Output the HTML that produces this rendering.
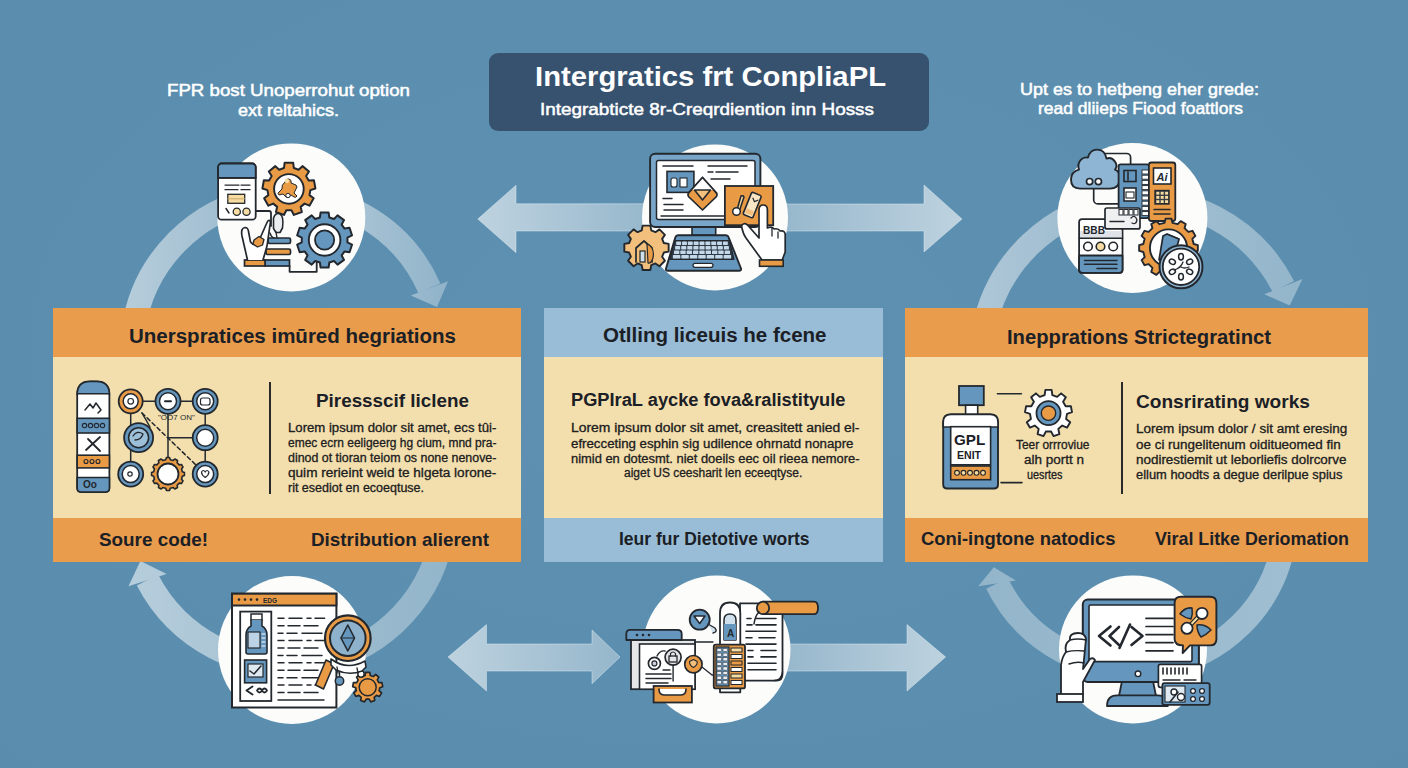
<!DOCTYPE html>
<html><head><meta charset="utf-8">
<style>
html,body{margin:0;padding:0;}
body{width:1408px;height:768px;overflow:hidden;position:relative;background:#5c8faf;font-family:"Liberation Sans",sans-serif;}
.abs{position:absolute;}
.t{position:absolute;white-space:pre;line-height:1;transform-origin:0 0;}
.box{position:absolute;}
</style></head><body>
<div class="abs" style="left:0;top:0;width:1408px;height:768px;background:radial-gradient(ellipse at 50% 45%, #5e91b1 0%, #5c8faf 60%, #5a8cad 100%);"></div>
<svg class="abs" style="left:0;top:0" width="1408" height="768" viewBox="0 0 1408 768">
<defs>
<linearGradient id="ga1" x1="0" x2="1" y1="0" y2="0"><stop offset="0" stop-color="#fff" stop-opacity="0.6"/><stop offset="1" stop-color="#fff" stop-opacity="0.35"/></linearGradient>
<linearGradient id="ga2" x1="0" x2="1" y1="0" y2="0"><stop offset="0" stop-color="#fff" stop-opacity="0.35"/><stop offset="1" stop-color="#fff" stop-opacity="0.6"/></linearGradient>
</defs>
<defs><linearGradient id="g_tl" gradientUnits="userSpaceOnUse" x1="125" y1="0" x2="448" y2="0"><stop offset="0" stop-color="#b6cddb"/><stop offset="0.45" stop-color="#97b7cc"/><stop offset="0.75" stop-color="#a5c1d3"/><stop offset="1" stop-color="#90b3c9"/></linearGradient><linearGradient id="g_tr" gradientUnits="userSpaceOnUse" x1="977" y1="0" x2="1302" y2="0"><stop offset="0" stop-color="#aec7d7"/><stop offset="0.45" stop-color="#97b7cc"/><stop offset="0.7" stop-color="#9dbccf"/><stop offset="1" stop-color="#93b5ca"/></linearGradient><linearGradient id="g_bl" gradientUnits="userSpaceOnUse" x1="128" y1="0" x2="447" y2="0"><stop offset="0" stop-color="#b7cedc"/><stop offset="0.3" stop-color="#aac5d5"/><stop offset="0.6" stop-color="#9dbccf"/><stop offset="1" stop-color="#93b5ca"/></linearGradient><linearGradient id="g_br" gradientUnits="userSpaceOnUse" x1="977" y1="0" x2="1290" y2="0"><stop offset="0" stop-color="#93b5ca"/><stop offset="0.3" stop-color="#97b7cc"/><stop offset="0.6" stop-color="#9abacd"/><stop offset="1" stop-color="#a0bed1"/></linearGradient></defs>
<path d="M133.4,330.0 A155.4,155.4 0 0,1 429.5,288.3" fill="none" stroke="url(#g_tl)" stroke-width="24"/><polygon points="448.0,281.2 437.0,307.0 410.8,295.4" fill="url(#g_tl)"/>
<path d="M983.8,330.0 A160.0,160.0 0 0,1 1283.4,286.6" fill="none" stroke="url(#g_tr)" stroke-width="24"/><polygon points="1302.4,279.0 1289.7,305.6 1264.3,294.2" fill="url(#g_tr)"/>
<path d="M441.3,540.0 A157.4,157.4 0 0,1 147.5,580.0" fill="none" stroke="url(#g_bl)" stroke-width="24"/><polygon points="128.5,586.3 140.4,561.0 166.6,574.0" fill="url(#g_bl)"/>
<path d="M1284.2,540.0 A152.3,152.3 0 0,1 997.0,583.4" fill="none" stroke="url(#g_br)" stroke-width="24"/><polygon points="978.2,586.3 993.8,567.2 1015.8,580.4" fill="url(#g_br)"/>
<!-- top middle arrows -->
<polygon points="477.8,219 516,185.3 516,203.8 650,203.8 650,231 516,231 516,252.7" fill="url(#ga1)" stroke="#e3eef5" stroke-opacity="0.45" stroke-width="1"/>
<polygon points="780,204 924,204 924,185 962,219 924,252 924,231 780,231" fill="url(#ga2)" stroke="#e3eef5" stroke-opacity="0.45" stroke-width="1"/>
<!-- bottom middle arrows -->
<polygon points="448,657 486.5,624.6 486.5,644 592,644 592,630 620,657 592,683.7 592,671 486.5,671 486.5,691" fill="url(#ga1)" stroke="#e3eef5" stroke-opacity="0.45" stroke-width="1"/>
<polygon points="780,644 907,644 907,624.6 945.6,657 907,691 907,671 780,671" fill="url(#ga2)" stroke="#e3eef5" stroke-opacity="0.45" stroke-width="1"/>
<!-- circles -->
<circle cx="291.3" cy="217.4" r="74" fill="#fcfcfb"/>
<circle cx="715" cy="217.4" r="73" fill="#fcfcfb"/>
<circle cx="1132.4" cy="218" r="75" fill="#fcfcfb"/>
<circle cx="292" cy="650" r="74" fill="#fcfcfb"/>
<circle cx="716.5" cy="649.5" r="74" fill="#fcfcfb"/>
<circle cx="1133" cy="649.4" r="74" fill="#fcfcfb"/>
</svg>
<!-- title box -->
<div class="abs" style="left:489px;top:53px;width:440px;height:78px;background:#37526f;border-radius:9px;"></div>
<!-- boxes -->
<div class="box" style="left:53px;top:308px;width:468px;height:254px;background:#f3dfad;">
  <div class="abs" style="left:0;top:0;width:468px;height:49px;background:#e99c4b;"></div>
  <div class="abs" style="left:0;top:210px;width:468px;height:44px;background:#e99c4b;"></div>
  <div class="abs" style="left:216px;top:74px;width:2px;height:112px;background:#2a2a2a;"></div>
</div>
<div class="box" style="left:544px;top:308px;width:339px;height:254px;background:#f3dfad;">
  <div class="abs" style="left:0;top:0;width:339px;height:49px;background:#99bdd6;"></div>
  <div class="abs" style="left:0;top:210px;width:339px;height:44px;background:#99bdd6;"></div>
</div>
<div class="box" style="left:905px;top:308px;width:463px;height:254px;background:#f3dfad;">
  <div class="abs" style="left:0;top:0;width:463px;height:49px;background:#e99c4b;"></div>
  <div class="abs" style="left:0;top:210px;width:463px;height:44px;background:#e99c4b;"></div>
  <div class="abs" style="left:216px;top:74px;width:2px;height:112px;background:#2a2a2a;"></div>
</div>
<svg class="abs" style="left:0;top:0" width="1408" height="768" viewBox="0 0 1408 768">
<path d="M255.7,211 H269 q2,0 2,2 V226" fill="none" stroke="#23282e" stroke-width="1.8" stroke-linejoin="round" stroke-linecap="round" />
<path d="M289.6,266 V271.8 H316.7 V262" fill="none" stroke="#23282e" stroke-width="1.8" stroke-linejoin="round" stroke-linecap="round" />
<path d="M283.99,167.97 L284.66,162.74 L293.14,162.74 L293.81,167.97 L298.59,169.71 L302.47,166.14 L308.96,171.58 L306.12,176.02 L308.66,180.43 L313.93,180.19 L315.40,188.53 L310.37,190.10 L309.48,195.11 L313.67,198.31 L309.44,205.65 L304.57,203.62 L300.67,206.89 L301.83,212.03 L293.87,214.93 L291.45,210.25 L286.35,210.25 L283.93,214.93 L275.97,212.03 L277.13,206.89 L273.23,203.62 L268.36,205.65 L264.13,198.31 L268.32,195.11 L267.43,190.10 L262.40,188.53 L263.87,180.19 L269.14,180.43 L271.68,176.02 L268.84,171.58 L275.33,166.14 L279.21,169.71Z" fill="#e99a45" stroke="#23282e" stroke-width="2" stroke-linejoin="round"/>
<circle cx="288.9" cy="188.9" r="14.8" fill="#ffffff" stroke="#23282e" stroke-width="1.9"/>
<path d="M285,182 q1,-4 4,-3 q3,1 2,4 l5,2 q2,2 0,4 l-2,4 l3,3 q-1,2 -3,1 l-3,-2 q-2,4 -5,2 l-3,-3 l-4,1 q-2,-2 0,-3 l3,-3 q-1,-4 3,-7z" fill="#e99a45" stroke="#23282e" stroke-width="1" stroke-linejoin="round" stroke-linecap="round" />
<circle cx="287" cy="181" r="2.2" fill="#f6dca0" stroke="#23282e" stroke-width="0"/>
<circle cx="288" cy="195.5" r="2.2" fill="#ffffff" stroke="#23282e" stroke-width="1"/>
<path d="M319.87,217.49 L320.60,212.49 L328.60,212.49 L329.33,217.49 L334.00,219.01 L337.53,215.39 L344.01,220.10 L341.66,224.57 L344.54,228.54 L349.53,227.69 L352.00,235.31 L347.47,237.55 L347.47,242.45 L352.00,244.69 L349.53,252.31 L344.54,251.46 L341.66,255.43 L344.01,259.90 L337.53,264.61 L334.00,260.99 L329.33,262.51 L328.60,267.51 L320.60,267.51 L319.87,262.51 L315.20,260.99 L311.67,264.61 L305.19,259.90 L307.54,255.43 L304.66,251.46 L299.67,252.31 L297.20,244.69 L301.73,242.45 L301.73,237.55 L297.20,235.31 L299.67,227.69 L304.66,228.54 L307.54,224.57 L305.19,220.10 L311.67,215.39 L315.20,219.01Z" fill="#6596bd" stroke="#23282e" stroke-width="2" stroke-linejoin="round"/>
<circle cx="324.6" cy="240" r="15.8" fill="#ffffff" stroke="#23282e" stroke-width="1.9"/>
<circle cx="324.6" cy="240" r="9.6" fill="#6596bd" stroke="#23282e" stroke-width="1.8"/>
<rect x="218.1" y="163.5" width="37.60" height="56.20" rx="3.5" fill="#ffffff" stroke="#23282e" stroke-width="1.8"/>
<path d="M218.1,177.9 V167 a3.5,3.5 0 0 1 3.5,-3.5 H252.2 a3.5,3.5 0 0 1 3.5,3.5 V177.9 Z" fill="#6596bd" stroke="#23282e" stroke-width="1.8" stroke-linejoin="round" stroke-linecap="round" />
<line x1="218.1" y1="177.9" x2="255.7" y2="177.9" stroke="#23282e" stroke-width="1.6" stroke-linecap="round" />
<line x1="225" y1="185.1" x2="239" y2="185.1" stroke="#23282e" stroke-width="1.3" stroke-linecap="round" />
<line x1="241" y1="185.1" x2="250" y2="185.1" stroke="#23282e" stroke-width="1.3" stroke-linecap="round" />
<line x1="225" y1="189.7" x2="238" y2="189.7" stroke="#23282e" stroke-width="1.3" stroke-linecap="round" />
<line x1="241" y1="189.7" x2="250" y2="189.7" stroke="#23282e" stroke-width="1.3" stroke-linecap="round" />
<rect x="227.8" y="194.3" width="16.90" height="9.00" rx="0" fill="#f6dca0" stroke="#23282e" stroke-width="1.3"/>
<line x1="227.8" y1="198.8" x2="244.7" y2="198.8" stroke="#c9a86a" stroke-width="1" stroke-linecap="round" />
<line x1="226" y1="208.5" x2="229" y2="213" stroke="#23282e" stroke-width="1.5" stroke-linecap="round" />
<circle cx="236.8" cy="211.7" r="3.6" fill="#f6dca0" stroke="#23282e" stroke-width="1.3"/>
<circle cx="246.5" cy="211.7" r="3.6" fill="#f6dca0" stroke="#23282e" stroke-width="1.3"/>
<rect x="268" y="238" width="22.50" height="5.50" rx="1.5" fill="#6596bd" stroke="#23282e" stroke-width="1.7"/>
<rect x="266" y="249" width="24.50" height="5.50" rx="1.5" fill="#e99a45" stroke="#23282e" stroke-width="1.7"/>
<rect x="265" y="260" width="24.50" height="6.00" rx="0" fill="#6596bd" stroke="#23282e" stroke-width="1.7"/>
<rect x="244.5" y="260" width="20.50" height="6.00" rx="0" fill="#e99a45" stroke="#23282e" stroke-width="1.7"/>
<path d="M273.5,218 q2,-6 6.5,-4 q4,2 2.5,14 l-2.5,4.5 h-4 l-2.5,-4 z" fill="#eceff2" stroke="#23282e" stroke-width="1.6" stroke-linejoin="round" stroke-linecap="round" />
<path d="M276,232 l1,6" fill="none" stroke="#23282e" stroke-width="1.4" stroke-linejoin="round" stroke-linecap="round" />
<path d="M270,233 q1,4 4,5" fill="none" stroke="#23282e" stroke-width="1.3" stroke-linejoin="round" stroke-linecap="round" />
<path d="M247.5,260 L242,236 q-1.5,-8 3,-8.5 q3,0 3.5,4 L250.5,242 q3,4 7,2 L267,222.5 q1.5,-3.5 3.5,-1 L267,246 L263,260" fill="#ffffff" stroke="#23282e" stroke-width="1.7" stroke-linejoin="round" stroke-linecap="round" />
<path d="M254,240 l5,-3.5 l5,3 l-1.5,5.5 l-5,2 l-4.5,-3z" fill="#e99a45" stroke="#23282e" stroke-width="1.3" stroke-linejoin="round" stroke-linecap="round" />
<path d="M641.75,230.44 L642.63,225.64 L650.37,225.64 L651.25,230.44 L655.42,232.16 L659.44,229.39 L664.91,234.86 L662.14,238.88 L663.86,243.05 L668.66,243.93 L668.66,251.67 L663.86,252.55 L662.14,256.72 L664.91,260.74 L659.44,266.21 L655.42,263.44 L651.25,265.16 L650.37,269.96 L642.63,269.96 L641.75,265.16 L637.58,263.44 L633.56,266.21 L628.09,260.74 L630.86,256.72 L629.14,252.55 L624.34,251.67 L624.34,243.93 L629.14,243.05 L630.86,238.88 L628.09,234.86 L633.56,229.39 L637.58,232.16Z" fill="#f2c07c" stroke="#23282e" stroke-width="1.9" stroke-linejoin="round"/>
<path d="M636,262 V248 l8,-7 l8,7 V262" fill="none" stroke="#23282e" stroke-width="1.7" stroke-linejoin="round" stroke-linecap="round" />
<rect x="640" y="251" width="5.00" height="11.00" rx="0" fill="#cfe0ec" stroke="#23282e" stroke-width="1.2"/>
<path d="M647,244 q8,3 6,14 q-2,6 -5,5 z" fill="#e99a45" stroke="#23282e" stroke-width="1.2" stroke-linejoin="round" stroke-linecap="round" />
<rect x="692" y="226" width="23.70" height="9.30" rx="0" fill="#6596bd" stroke="#23282e" stroke-width="1.6"/>
<rect x="650.1" y="153.8" width="110.30" height="73.20" rx="5" fill="#78a5c8" stroke="#23282e" stroke-width="1.9"/>
<rect x="656.5" y="160.5" width="98.50" height="59.00" rx="2" fill="#ffffff" stroke="#23282e" stroke-width="1.5"/>
<path d="M678,235.3 H726 q2,0 2.6,2 L741,268.5 q0.6,2.3 -2,2.3 H668 q-2.6,0 -2,-2.3 L675.4,237.3 q0.6,-2 2.6,-2 Z" fill="#6596bd" stroke="#23282e" stroke-width="1.9" stroke-linejoin="round" stroke-linecap="round" />
<path d="M674.5,240.5 H729.5 L734,259.5 H670 Z" fill="#2f3a46" stroke="#23282e" stroke-width="1.2" stroke-linejoin="round" stroke-linecap="round" />
<rect x="676.20" y="241.60" width="4.84" height="3.4" rx="0.6" fill="#c3d8e8"/>
<rect x="682.04" y="241.60" width="4.84" height="3.4" rx="0.6" fill="#c3d8e8"/>
<rect x="687.89" y="241.60" width="4.84" height="3.4" rx="0.6" fill="#c3d8e8"/>
<rect x="693.73" y="241.60" width="4.84" height="3.4" rx="0.6" fill="#c3d8e8"/>
<rect x="699.58" y="241.60" width="4.84" height="3.4" rx="0.6" fill="#c3d8e8"/>
<rect x="705.42" y="241.60" width="4.84" height="3.4" rx="0.6" fill="#c3d8e8"/>
<rect x="711.27" y="241.60" width="4.84" height="3.4" rx="0.6" fill="#c3d8e8"/>
<rect x="717.11" y="241.60" width="4.84" height="3.4" rx="0.6" fill="#c3d8e8"/>
<rect x="722.96" y="241.60" width="4.84" height="3.4" rx="0.6" fill="#c3d8e8"/>
<rect x="675.10" y="246.10" width="5.09" height="3.4" rx="0.6" fill="#c3d8e8"/>
<rect x="681.19" y="246.10" width="5.09" height="3.4" rx="0.6" fill="#c3d8e8"/>
<rect x="687.28" y="246.10" width="5.09" height="3.4" rx="0.6" fill="#c3d8e8"/>
<rect x="693.37" y="246.10" width="5.09" height="3.4" rx="0.6" fill="#c3d8e8"/>
<rect x="699.46" y="246.10" width="5.09" height="3.4" rx="0.6" fill="#c3d8e8"/>
<rect x="705.54" y="246.10" width="5.09" height="3.4" rx="0.6" fill="#c3d8e8"/>
<rect x="711.63" y="246.10" width="5.09" height="3.4" rx="0.6" fill="#c3d8e8"/>
<rect x="717.72" y="246.10" width="5.09" height="3.4" rx="0.6" fill="#c3d8e8"/>
<rect x="723.81" y="246.10" width="5.09" height="3.4" rx="0.6" fill="#c3d8e8"/>
<rect x="674.00" y="250.60" width="5.33" height="3.4" rx="0.6" fill="#c3d8e8"/>
<rect x="680.33" y="250.60" width="5.33" height="3.4" rx="0.6" fill="#c3d8e8"/>
<rect x="686.67" y="250.60" width="5.33" height="3.4" rx="0.6" fill="#c3d8e8"/>
<rect x="693.00" y="250.60" width="5.33" height="3.4" rx="0.6" fill="#c3d8e8"/>
<rect x="699.33" y="250.60" width="5.33" height="3.4" rx="0.6" fill="#c3d8e8"/>
<rect x="705.67" y="250.60" width="5.33" height="3.4" rx="0.6" fill="#c3d8e8"/>
<rect x="712.00" y="250.60" width="5.33" height="3.4" rx="0.6" fill="#c3d8e8"/>
<rect x="718.33" y="250.60" width="5.33" height="3.4" rx="0.6" fill="#c3d8e8"/>
<rect x="724.67" y="250.60" width="5.33" height="3.4" rx="0.6" fill="#c3d8e8"/>
<rect x="672.90" y="255.10" width="7.46" height="3.4" rx="0.6" fill="#c3d8e8"/>
<rect x="681.36" y="255.10" width="7.46" height="3.4" rx="0.6" fill="#c3d8e8"/>
<rect x="689.81" y="255.10" width="7.46" height="3.4" rx="0.6" fill="#c3d8e8"/>
<rect x="698.27" y="255.10" width="7.46" height="3.4" rx="0.6" fill="#c3d8e8"/>
<rect x="706.73" y="255.10" width="7.46" height="3.4" rx="0.6" fill="#c3d8e8"/>
<rect x="715.19" y="255.10" width="7.46" height="3.4" rx="0.6" fill="#c3d8e8"/>
<rect x="723.64" y="255.10" width="7.46" height="3.4" rx="0.6" fill="#c3d8e8"/>
<rect x="693" y="263.3" width="20.00" height="4.00" rx="2" fill="#ffffff" stroke="#23282e" stroke-width="1.3"/>
<line x1="663" y1="166" x2="693" y2="166" stroke="#23282e" stroke-width="1.5" stroke-linecap="round" />
<line x1="708" y1="166" x2="747" y2="166" stroke="#23282e" stroke-width="1.5" stroke-linecap="round" />
<line x1="708" y1="172" x2="713" y2="172" stroke="#23282e" stroke-width="1.5" stroke-linecap="round" />
<line x1="716" y1="172" x2="738" y2="172" stroke="#23282e" stroke-width="1.5" stroke-linecap="round" />
<line x1="711" y1="179" x2="730" y2="179" stroke="#23282e" stroke-width="1.5" stroke-linecap="round" />
<rect x="667" y="171.4" width="26.90" height="21.00" rx="0" fill="#6596bd" stroke="#23282e" stroke-width="1.6"/>
<rect x="671" y="178" width="6.00" height="9.00" rx="2" fill="#ffffff" stroke="#23282e" stroke-width="1.1"/>
<rect x="680" y="178" width="7.00" height="9.00" rx="0" fill="#ffffff" stroke="#23282e" stroke-width="1.1"/>
<line x1="663" y1="198.5" x2="672" y2="198.5" stroke="#23282e" stroke-width="1.5" stroke-linecap="round" />
<line x1="664" y1="204.5" x2="683" y2="204.5" stroke="#23282e" stroke-width="1.5" stroke-linecap="round" />
<line x1="664" y1="210" x2="683" y2="210" stroke="#23282e" stroke-width="1.5" stroke-linecap="round" />
<line x1="661" y1="216" x2="745" y2="216" stroke="#23282e" stroke-width="1.5" stroke-linecap="round" />
<path d="M702.5,177.5 L716.5,193 Q718,196 715,198 L702.5,210 L690,198 Q687,196 688.5,193 Z" fill="#e99a45" stroke="#23282e" stroke-width="1.7" stroke-linejoin="round" stroke-linecap="round" />
<path d="M702.5,177.5 L714,190 H691 Z" fill="#ffffff" stroke="#23282e" stroke-width="0" stroke-linejoin="round" stroke-linecap="round" />
<path d="M688.5,193 L702.5,177.5 L716.5,193" fill="none" stroke="#23282e" stroke-width="1.7" stroke-linejoin="round" stroke-linecap="round" />
<path d="M694.5,190 H710.5 L702.5,200 Z" fill="#f2c07c" stroke="#23282e" stroke-width="1.6" stroke-linejoin="round" stroke-linecap="round" />
<rect x="724.9" y="186" width="48.30" height="39.20" rx="0" fill="#e99a45" stroke="#23282e" stroke-width="1.8"/>
<path d="M741,196 q2,-1 3,1 l-4,12 q-1,2 -3,1 z" fill="#f6dca0" stroke="#23282e" stroke-width="1.5" stroke-linejoin="round" stroke-linecap="round" />
<circle cx="736.5" cy="211.5" r="3.8" fill="#ffffff" stroke="#23282e" stroke-width="1.5"/>
<g transform="rotate(22 752 205)"><rect x="747" y="193" width="10.5" height="24" rx="1.5" fill="#f8e6c4" stroke="#23282e" stroke-width="1.6"/><path d="M750,198 l3,3 l3,-3" fill="none" stroke="#23282e" stroke-width="1.2"/><rect x="748.5" y="210" width="7.5" height="5" fill="#f2c07c" stroke="none"/></g>
<path d="M741.5,226 q2,-4 6,-1 l11.5,13 V210 q0,-5 4.2,-5 q4.2,0 4.2,5 V228 q4,-2 6.8,1 q4,-1 6,2 q4,-1 5,3 V252 l-3,8 H762 l-16,-22 q-3,-4 -4.5,-12 z" fill="#ffffff" stroke="#23282e" stroke-width="1.7" stroke-linejoin="round" stroke-linecap="round" />
<rect x="759.5" y="260" width="23.70" height="6.30" rx="0" fill="#e99a45" stroke="#23282e" stroke-width="1.6"/>
<line x1="772" y1="228" x2="772" y2="236" stroke="#23282e" stroke-width="1.3" stroke-linecap="round" />
<line x1="778" y1="232" x2="778" y2="238" stroke="#23282e" stroke-width="1.3" stroke-linecap="round" />
<rect x="1093.7" y="153.5" width="36.90" height="50.40" rx="4" fill="none" stroke="#23282e" stroke-width="1.7"/>
<path d="M1080,188.6 q-9,0 -9,-9 q0,-8 8,-10 q-2,-6 2,-10 q3,-3 7,-2 q2,-8 9,-8 q8,0 9.5,9 q5,-2 8.5,3 q3,4 0,8 q5,2 5,8 q0,11 -10,11 z" fill="#8fb5d5" stroke="#23282e" stroke-width="1.9" stroke-linejoin="round" stroke-linecap="round" />
<circle cx="1089.6" cy="181.6" r="3.1" fill="#ffffff" stroke="#23282e" stroke-width="1.7"/>
<circle cx="1098.4" cy="181.6" r="3.1" fill="#ffffff" stroke="#23282e" stroke-width="1.7"/>
<rect x="1118.6" y="164.4" width="30.30" height="53.70" rx="2" fill="#6596bd" stroke="#23282e" stroke-width="1.8"/>
<rect x="1124" y="170.5" width="12.00" height="11.00" rx="0" fill="#6596bd" stroke="#23282e" stroke-width="1.6"/>
<line x1="1128" y1="172" x2="1128" y2="180" stroke="#23282e" stroke-width="1.6" stroke-linecap="round" />
<rect x="1124" y="188" width="12.00" height="13.00" rx="0" fill="#ffffff" stroke="#23282e" stroke-width="1.6"/>
<rect x="1126" y="192" width="8.00" height="6.00" rx="0" fill="none" stroke="#23282e" stroke-width="1.1"/>
<rect x="1142" y="170.0" width="6.90" height="4.00" rx="0" fill="#ffffff" stroke="#23282e" stroke-width="0.9"/>
<rect x="1142" y="175.2" width="6.90" height="4.00" rx="0" fill="#ffffff" stroke="#23282e" stroke-width="0.9"/>
<rect x="1142" y="180.4" width="6.90" height="4.00" rx="0" fill="#ffffff" stroke="#23282e" stroke-width="0.9"/>
<rect x="1142" y="185.6" width="6.90" height="4.00" rx="0" fill="#ffffff" stroke="#23282e" stroke-width="0.9"/>
<rect x="1142" y="190.8" width="6.90" height="4.00" rx="0" fill="#ffffff" stroke="#23282e" stroke-width="0.9"/>
<rect x="1142" y="196.0" width="6.90" height="4.00" rx="0" fill="#ffffff" stroke="#23282e" stroke-width="0.9"/>
<rect x="1142" y="201.2" width="6.90" height="4.00" rx="0" fill="#ffffff" stroke="#23282e" stroke-width="0.9"/>
<rect x="1142" y="206.4" width="6.90" height="4.00" rx="0" fill="#ffffff" stroke="#23282e" stroke-width="0.9"/>
<rect x="1142" y="211.6" width="6.90" height="4.00" rx="0" fill="#ffffff" stroke="#23282e" stroke-width="0.9"/>
<rect x="1148.9" y="162.5" width="26.40" height="58.50" rx="2.5" fill="#e99a45" stroke="#23282e" stroke-width="1.8"/>
<rect x="1153.5" y="168" width="17.50" height="16.00" rx="0" fill="#ffffff" stroke="#23282e" stroke-width="1.6"/>
<text x="1162" y="181" font-family="Liberation Sans" font-weight="bold" font-style="italic" font-size="11" text-anchor="middle" fill="#23282e">Ai</text>
<rect x="1155" y="190.5" width="14.00" height="13.50" rx="0" fill="#3a3f44" stroke="#23282e" stroke-width="1.4"/>
<rect x="1156.3" y="191.8" width="3" height="2.8" fill="#f6dca0"/>
<rect x="1160.7" y="191.8" width="3" height="2.8" fill="#f6dca0"/>
<rect x="1165.1" y="191.8" width="3" height="2.8" fill="#f6dca0"/>
<rect x="1156.3" y="196.0" width="3" height="2.8" fill="#f6dca0"/>
<rect x="1160.7" y="196.0" width="3" height="2.8" fill="#f6dca0"/>
<rect x="1165.1" y="196.0" width="3" height="2.8" fill="#f6dca0"/>
<rect x="1156.3" y="200.2" width="3" height="2.8" fill="#f6dca0"/>
<rect x="1160.7" y="200.2" width="3" height="2.8" fill="#f6dca0"/>
<rect x="1165.1" y="200.2" width="3" height="2.8" fill="#f6dca0"/>
<line x1="1154" y1="209.5" x2="1170" y2="209.5" stroke="#23282e" stroke-width="1.5" stroke-linecap="round" />
<line x1="1154" y1="214" x2="1170" y2="214" stroke="#23282e" stroke-width="1.5" stroke-linecap="round" />
<rect x="1079.1" y="219.1" width="43.40" height="53.70" rx="3" fill="#ffffff" stroke="#23282e" stroke-width="1.8"/>
<rect x="1080" y="231" width="41.5" height="7" fill="#dfe3e7"/>
<line x1="1079.1" y1="238.3" x2="1122.5" y2="238.3" stroke="#23282e" stroke-width="1.5" stroke-linecap="round" />
<path d="M1079.1,255.5 H1122.5 V269.8 q0,3 -3,3 H1082.1 q-3,0 -3,-3 Z" fill="#6596bd" stroke="#23282e" stroke-width="1.8" stroke-linejoin="round" stroke-linecap="round" />
<text x="1083" y="234" font-family="Liberation Sans" font-weight="bold" font-size="11" fill="#23282e" textLength="22" lengthAdjust="spacingAndGlyphs">BBB</text>
<circle cx="1088" cy="246.5" r="4.3" fill="#ffffff" stroke="#23282e" stroke-width="1.6"/>
<circle cx="1100.5" cy="246.5" r="4.3" fill="#f6dca0" stroke="#23282e" stroke-width="1.6"/>
<circle cx="1113.2" cy="246.5" r="4.3" fill="#ffffff" stroke="#23282e" stroke-width="1.6"/>
<line x1="1084.5" y1="260.4" x2="1117" y2="260.4" stroke="#23282e" stroke-width="1.5" stroke-linecap="round" />
<line x1="1084.5" y1="264.2" x2="1117" y2="264.2" stroke="#23282e" stroke-width="1.5" stroke-linecap="round" />
<line x1="1097" y1="268.6" x2="1117" y2="268.6" stroke="#23282e" stroke-width="1.5" stroke-linecap="round" />
<rect x="1105" y="208" width="35.00" height="20.90" rx="2" fill="#eef0f2" stroke="#23282e" stroke-width="1.7"/>
<rect x="1119" y="209.5" width="4.00" height="5.50" rx="0" fill="#ffffff" stroke="#23282e" stroke-width="1"/>
<rect x="1124" y="209.5" width="4.00" height="5.50" rx="0" fill="#ffffff" stroke="#23282e" stroke-width="1"/>
<rect x="1129" y="209.5" width="4.00" height="5.50" rx="0" fill="#ffffff" stroke="#23282e" stroke-width="1"/>
<rect x="1134" y="209.5" width="4.00" height="5.50" rx="0" fill="#ffffff" stroke="#23282e" stroke-width="1"/>
<line x1="1110" y1="221.5" x2="1124" y2="221.5" stroke="#23282e" stroke-width="1.5" stroke-linecap="round" />
<path d="M1131,218 q4,-4 6,2 q-1,5 -5,3" fill="none" stroke="#23282e" stroke-width="1.3" stroke-linejoin="round" stroke-linecap="round" />
<path d="M1164.51,222.81 L1165.57,218.65 L1171.43,218.65 L1172.49,222.81 L1177.64,224.19 L1180.64,221.11 L1185.71,224.04 L1184.55,228.18 L1188.32,231.95 L1192.46,230.79 L1195.39,235.86 L1192.31,238.86 L1193.69,244.01 L1197.85,245.07 L1197.85,250.93 L1193.69,251.99 L1192.31,257.14 L1195.39,260.14 L1192.46,265.21 L1188.32,264.05 L1184.55,267.82 L1185.71,271.96 L1180.64,274.89 L1177.64,271.81 L1172.49,273.19 L1171.43,277.35 L1165.57,277.35 L1164.51,273.19 L1159.36,271.81 L1156.36,274.89 L1151.29,271.96 L1152.45,267.82 L1148.68,264.05 L1144.54,265.21 L1141.61,260.14 L1144.69,257.14 L1143.31,251.99 L1139.15,250.93 L1139.15,245.07 L1143.31,244.01 L1144.69,238.86 L1141.61,235.86 L1144.54,230.79 L1148.68,231.95 L1152.45,228.18 L1151.29,224.04 L1156.36,221.11 L1159.36,224.19Z" fill="#e99a45" stroke="#23282e" stroke-width="1.9" stroke-linejoin="round"/>
<circle cx="1168.5" cy="248" r="18.6" fill="#ffffff" stroke="#23282e" stroke-width="1.9"/>
<path d="M1163,236 l4,-2 l12,5 l-1,4 l-6,18 l-13,-1 z" fill="#6596bd" stroke="#23282e" stroke-width="1.7" stroke-linejoin="round" stroke-linecap="round" />
<path d="M1167,234 l12,5" fill="none" stroke="#23282e" stroke-width="1.2" stroke-linejoin="round" stroke-linecap="round" />
<circle cx="1181" cy="266.8" r="21.5" fill="#8fb4d0" stroke="#23282e" stroke-width="2"/>
<circle cx="1181" cy="266.8" r="18.2" fill="#ffffff" stroke="#23282e" stroke-width="1.8"/>
<ellipse cx="1189.66" cy="271.80" rx="3.2" ry="2.4" transform="rotate(30 1189.66 271.80)" fill="none" stroke="#23282e" stroke-width="1.5"/>
<ellipse cx="1181.00" cy="276.80" rx="3.2" ry="2.4" transform="rotate(90 1181.00 276.80)" fill="none" stroke="#23282e" stroke-width="1.5"/>
<ellipse cx="1172.34" cy="271.80" rx="3.2" ry="2.4" transform="rotate(150 1172.34 271.80)" fill="none" stroke="#23282e" stroke-width="1.5"/>
<ellipse cx="1172.34" cy="261.80" rx="3.2" ry="2.4" transform="rotate(210 1172.34 261.80)" fill="none" stroke="#23282e" stroke-width="1.5"/>
<ellipse cx="1181.00" cy="256.80" rx="3.2" ry="2.4" transform="rotate(270 1181.00 256.80)" fill="none" stroke="#23282e" stroke-width="1.5"/>
<ellipse cx="1189.66" cy="261.80" rx="3.2" ry="2.4" transform="rotate(330 1189.66 261.80)" fill="none" stroke="#23282e" stroke-width="1.5"/>
<path d="M1174,270 q7,-2 9,-8 M1181,267 q3,2 8,0" fill="none" stroke="#23282e" stroke-width="1.3" stroke-linejoin="round" stroke-linecap="round" />
<rect x="232" y="593.7" width="104.40" height="113.80" rx="0" fill="#ffffff" stroke="#23282e" stroke-width="2"/>
<rect x="232" y="593.7" width="104.40" height="11.80" rx="0" fill="#e99a45" stroke="#23282e" stroke-width="2"/>
<circle cx="239" cy="599.6" r="1.3" fill="#23282e" stroke="#23282e" stroke-width="0"/>
<circle cx="245" cy="599.6" r="1.3" fill="#23282e" stroke="#23282e" stroke-width="0"/>
<circle cx="251" cy="599.6" r="1.3" fill="#23282e" stroke="#23282e" stroke-width="0"/>
<circle cx="257" cy="599.6" r="1.3" fill="#23282e" stroke="#23282e" stroke-width="0"/>
<text x="263" y="602.5" font-family="Liberation Sans" font-weight="bold" font-size="6.5" fill="#23282e">EDG</text>
<rect x="240.2" y="611.6" width="31.10" height="89.40" rx="0" fill="#ffffff" stroke="#23282e" stroke-width="1.8"/>
<rect x="251" y="614" width="11.00" height="6.00" rx="0" fill="#ffffff" stroke="#23282e" stroke-width="1.5"/>
<path d="M251,620 V626 q-5,3 -5,9 V652 q0,2 2,2 H265 q2,0 2,-2 V635 q0,-6 -5,-9 V620" fill="#6596bd" stroke="#23282e" stroke-width="1.6" stroke-linejoin="round" stroke-linecap="round" />
<rect x="248" y="632" width="12.00" height="16.00" rx="0" fill="#bcd3e6" stroke="#23282e" stroke-width="1.2"/>
<line x1="262" y1="634" x2="265" y2="634" stroke="#ffffff" stroke-width="1" stroke-linecap="round" />
<line x1="262" y1="638" x2="265" y2="638" stroke="#ffffff" stroke-width="1" stroke-linecap="round" />
<line x1="262" y1="642" x2="265" y2="642" stroke="#ffffff" stroke-width="1" stroke-linecap="round" />
<line x1="262" y1="646" x2="265" y2="646" stroke="#ffffff" stroke-width="1" stroke-linecap="round" />
<rect x="244.6" y="660" width="22.00" height="22.80" rx="0" fill="#6596bd" stroke="#23282e" stroke-width="1.6"/>
<rect x="248" y="664" width="15.00" height="13.00" rx="0" fill="#dfe9f1" stroke="#23282e" stroke-width="1.2"/>
<path d="M250,671 l4,3 l7,-8" fill="none" stroke="#23282e" stroke-width="1.5" stroke-linejoin="round" stroke-linecap="round" />
<path d="M252.5,686.5 L246.5,690.5 L252.5,694.5" fill="none" stroke="#23282e" stroke-width="2" stroke-linejoin="round" stroke-linecap="round" />
<path d="M257,690.5 q2.5,-4 5,0 q2.5,4 5,0 q-2.5,-4 -5,0 q-2.5,4 -5,0z" fill="none" stroke="#23282e" stroke-width="1.8" stroke-linejoin="round" stroke-linecap="round" />
<line x1="278" y1="618.3" x2="284" y2="618.3" stroke="#23282e" stroke-width="1.5" stroke-linecap="round" />
<line x1="289" y1="618.3" x2="302" y2="618.3" stroke="#23282e" stroke-width="1.5" stroke-linecap="round" />
<line x1="307" y1="618.3" x2="311" y2="618.3" stroke="#23282e" stroke-width="1.5" stroke-linecap="round" />
<line x1="315" y1="618.3" x2="324.6" y2="618.3" stroke="#23282e" stroke-width="1.5" stroke-linecap="round" />
<line x1="278" y1="625.72" x2="284" y2="625.72" stroke="#23282e" stroke-width="1.5" stroke-linecap="round" />
<line x1="288" y1="625.72" x2="300" y2="625.72" stroke="#23282e" stroke-width="1.5" stroke-linecap="round" />
<line x1="304" y1="625.72" x2="318" y2="625.72" stroke="#23282e" stroke-width="1.5" stroke-linecap="round" />
<line x1="278" y1="633.14" x2="283" y2="633.14" stroke="#23282e" stroke-width="1.5" stroke-linecap="round" />
<line x1="287" y1="633.14" x2="297" y2="633.14" stroke="#23282e" stroke-width="1.5" stroke-linecap="round" />
<line x1="302" y1="633.14" x2="322" y2="633.14" stroke="#23282e" stroke-width="1.5" stroke-linecap="round" />
<line x1="278" y1="640.56" x2="284" y2="640.56" stroke="#23282e" stroke-width="1.5" stroke-linecap="round" />
<line x1="289" y1="640.56" x2="302" y2="640.56" stroke="#23282e" stroke-width="1.5" stroke-linecap="round" />
<line x1="307" y1="640.56" x2="311" y2="640.56" stroke="#23282e" stroke-width="1.5" stroke-linecap="round" />
<line x1="315" y1="640.56" x2="324.6" y2="640.56" stroke="#23282e" stroke-width="1.5" stroke-linecap="round" />
<line x1="278" y1="647.98" x2="284" y2="647.98" stroke="#23282e" stroke-width="1.5" stroke-linecap="round" />
<line x1="288" y1="647.98" x2="300" y2="647.98" stroke="#23282e" stroke-width="1.5" stroke-linecap="round" />
<line x1="304" y1="647.98" x2="318" y2="647.98" stroke="#23282e" stroke-width="1.5" stroke-linecap="round" />
<line x1="278" y1="655.4" x2="283" y2="655.4" stroke="#23282e" stroke-width="1.5" stroke-linecap="round" />
<line x1="287" y1="655.4" x2="297" y2="655.4" stroke="#23282e" stroke-width="1.5" stroke-linecap="round" />
<line x1="302" y1="655.4" x2="322" y2="655.4" stroke="#23282e" stroke-width="1.5" stroke-linecap="round" />
<line x1="278" y1="662.82" x2="284" y2="662.82" stroke="#23282e" stroke-width="1.5" stroke-linecap="round" />
<line x1="289" y1="662.82" x2="302" y2="662.82" stroke="#23282e" stroke-width="1.5" stroke-linecap="round" />
<line x1="307" y1="662.82" x2="311" y2="662.82" stroke="#23282e" stroke-width="1.5" stroke-linecap="round" />
<line x1="315" y1="662.82" x2="324.6" y2="662.82" stroke="#23282e" stroke-width="1.5" stroke-linecap="round" />
<line x1="278" y1="670.24" x2="284" y2="670.24" stroke="#23282e" stroke-width="1.5" stroke-linecap="round" />
<line x1="288" y1="670.24" x2="300" y2="670.24" stroke="#23282e" stroke-width="1.5" stroke-linecap="round" />
<line x1="304" y1="670.24" x2="318" y2="670.24" stroke="#23282e" stroke-width="1.5" stroke-linecap="round" />
<line x1="278" y1="677.66" x2="283" y2="677.66" stroke="#23282e" stroke-width="1.5" stroke-linecap="round" />
<line x1="287" y1="677.66" x2="297" y2="677.66" stroke="#23282e" stroke-width="1.5" stroke-linecap="round" />
<line x1="302" y1="677.66" x2="322" y2="677.66" stroke="#23282e" stroke-width="1.5" stroke-linecap="round" />
<line x1="278" y1="685.08" x2="284" y2="685.08" stroke="#23282e" stroke-width="1.5" stroke-linecap="round" />
<line x1="289" y1="685.08" x2="302" y2="685.08" stroke="#23282e" stroke-width="1.5" stroke-linecap="round" />
<line x1="307" y1="685.08" x2="311" y2="685.08" stroke="#23282e" stroke-width="1.5" stroke-linecap="round" />
<line x1="315" y1="685.08" x2="324.6" y2="685.08" stroke="#23282e" stroke-width="1.5" stroke-linecap="round" />
<line x1="278" y1="692.5" x2="284" y2="692.5" stroke="#23282e" stroke-width="1.5" stroke-linecap="round" />
<line x1="288" y1="692.5" x2="300" y2="692.5" stroke="#23282e" stroke-width="1.5" stroke-linecap="round" />
<line x1="304" y1="692.5" x2="318" y2="692.5" stroke="#23282e" stroke-width="1.5" stroke-linecap="round" />
<line x1="278" y1="700" x2="324" y2="700" stroke="#23282e" stroke-width="1.5" stroke-linecap="round" />
<path d="M326,660 L334,664 L323.5,689 L315.5,685 Z" fill="#e99a45" stroke="#23282e" stroke-width="1.6" stroke-linejoin="round" stroke-linecap="round" />
<line x1="339.5" y1="665" x2="339.5" y2="676" stroke="#23282e" stroke-width="1.5" stroke-linecap="round" />
<circle cx="339.5" cy="681" r="4.2" fill="#6596bd" stroke="#23282e" stroke-width="1.5"/>
<path d="M365.04,675.50 L365.61,672.35 L369.79,672.35 L370.36,675.50 L373.19,676.53 L375.65,674.48 L378.85,677.16 L377.26,679.94 L378.76,682.55 L381.97,682.56 L382.69,686.68 L379.69,687.79 L379.16,690.75 L381.61,692.82 L379.52,696.43 L376.50,695.35 L374.20,697.29 L374.74,700.44 L370.82,701.87 L369.20,699.11 L366.20,699.11 L364.58,701.87 L360.66,700.44 L361.20,697.29 L358.90,695.35 L355.88,696.43 L353.79,692.82 L356.24,690.75 L355.71,687.79 L352.71,686.68 L353.43,682.56 L356.64,682.55 L358.14,679.94 L356.55,677.16 L359.75,674.48 L362.21,676.53Z" fill="#e99a45" stroke="#23282e" stroke-width="1.7" stroke-linejoin="round"/>
<circle cx="367.7" cy="687.2" r="8.5" fill="#e99a45" stroke="#23282e" stroke-width="1.5"/>
<circle cx="361" cy="674" r="3.2" fill="#ffffff" stroke="#23282e" stroke-width="1.5"/>
<path d="M331,659 q16,12 34,2 l1,6 l-4,4 q-13,5 -26,-1 l-5,-5 z" fill="#ffffff" stroke="#23282e" stroke-width="1.6" stroke-linejoin="round" stroke-linecap="round" />
<path d="M337,667 l1,6 M357,668 l1,5" fill="none" stroke="#23282e" stroke-width="1.3" stroke-linejoin="round" stroke-linecap="round" />
<circle cx="347.8" cy="638.2" r="22.8" fill="#e99a45" stroke="#23282e" stroke-width="2.2"/>
<circle cx="347.8" cy="638.2" r="17.8" fill="#8eb2cc" stroke="#23282e" stroke-width="2"/>
<path d="M347.8,625 L354.5,638 L347.8,651 L341,638 Z" fill="#6596bd" stroke="#23282e" stroke-width="1.6" stroke-linejoin="round" stroke-linecap="round" />
<line x1="341" y1="638" x2="354.5" y2="638" stroke="#23282e" stroke-width="1.2" stroke-linecap="round" />
<path d="M740,603.3 H782.5 V674 q0,6.6 -6,6.6 H740 z" fill="#ffffff" stroke="#23282e" stroke-width="1.8" stroke-linejoin="round" stroke-linecap="round" />
<path d="M782.5,672 q-1,8 -8,8.6" fill="none" stroke="#23282e" stroke-width="1.5" stroke-linejoin="round" stroke-linecap="round" />
<line x1="747" y1="618.5" x2="751" y2="618.5" stroke="#23282e" stroke-width="1.6" stroke-linecap="round" />
<line x1="756" y1="618.5" x2="776" y2="618.5" stroke="#23282e" stroke-width="1.6" stroke-linecap="round" />
<line x1="747" y1="624.9" x2="752" y2="624.9" stroke="#23282e" stroke-width="1.6" stroke-linecap="round" />
<line x1="756" y1="624.9" x2="776" y2="624.9" stroke="#23282e" stroke-width="1.6" stroke-linecap="round" />
<line x1="746" y1="631.3" x2="776" y2="631.3" stroke="#23282e" stroke-width="1.6" stroke-linecap="round" />
<line x1="746" y1="637.7" x2="752" y2="637.7" stroke="#23282e" stroke-width="1.6" stroke-linecap="round" />
<line x1="759" y1="637.7" x2="775" y2="637.7" stroke="#23282e" stroke-width="1.6" stroke-linecap="round" />
<line x1="746" y1="644.1" x2="776" y2="644.1" stroke="#23282e" stroke-width="1.6" stroke-linecap="round" />
<line x1="748" y1="650.5" x2="753" y2="650.5" stroke="#23282e" stroke-width="1.6" stroke-linecap="round" />
<line x1="761" y1="650.5" x2="776" y2="650.5" stroke="#23282e" stroke-width="1.6" stroke-linecap="round" />
<line x1="748" y1="656.9" x2="753" y2="656.9" stroke="#23282e" stroke-width="1.6" stroke-linecap="round" />
<line x1="761" y1="656.9" x2="776" y2="656.9" stroke="#23282e" stroke-width="1.6" stroke-linecap="round" />
<line x1="748" y1="663.3" x2="776" y2="663.3" stroke="#23282e" stroke-width="1.6" stroke-linecap="round" />
<line x1="748" y1="669.7" x2="776" y2="669.7" stroke="#23282e" stroke-width="1.6" stroke-linecap="round" />
<path d="M763,601.7 H814 q4,0 4,6.2 q0,6.3 -4,6.3 H763 z" fill="#e99a45" stroke="#23282e" stroke-width="1.8" stroke-linejoin="round" stroke-linecap="round" />
<circle cx="763" cy="607.9" r="6.2" fill="#e99a45" stroke="#23282e" stroke-width="1.8"/>
<path d="M759,612 q-4,4 -5,12" fill="none" stroke="#23282e" stroke-width="1.5" stroke-linejoin="round" stroke-linecap="round" />
<path d="M720,692.3 V613 q0,-10.5 10,-10.5 q10.3,0 10.3,10.5 V692.3 Z" fill="#ffffff" stroke="#23282e" stroke-width="1.8" stroke-linejoin="round" stroke-linecap="round" />
<path d="M724,640 V620 q0,-6 6,-6 q6,0 6,6 V640 z" fill="#cfe0ec" stroke="#23282e" stroke-width="1.5" stroke-linejoin="round" stroke-linecap="round" />
<rect x="724" y="624" width="12.00" height="16.00" rx="0" fill="#6596bd" stroke="#23282e" stroke-width="0"/>
<text x="727" y="637" font-family="Liberation Sans" font-weight="bold" font-size="10" fill="#23282e">A</text>
<rect x="631" y="640" width="64.00" height="49.20" rx="0" fill="#e4e6e8" stroke="#23282e" stroke-width="1.8"/>
<rect x="639.5" y="644" width="55.50" height="45.20" rx="0" fill="#ffffff" stroke="#23282e" stroke-width="1.6"/>
<rect x="653.6" y="686" width="38.30" height="16.50" rx="0" fill="#e99a45" stroke="#23282e" stroke-width="1.8"/>
<path d="M659,689 q0,6 5,6 H681 q5,0 5,-6" fill="#ffffff" stroke="#23282e" stroke-width="1.6" stroke-linejoin="round" stroke-linecap="round" />
<path d="M626.3,640 V634 q0,-4.2 4,-4.2 H677.5 q4.2,0 4.2,4.2 V640 Z" fill="#6596bd" stroke="#23282e" stroke-width="1.8" stroke-linejoin="round" stroke-linecap="round" />
<circle cx="637" cy="635" r="1.3" fill="#23282e" stroke="#23282e" stroke-width="0"/>
<circle cx="643" cy="635" r="1.3" fill="#23282e" stroke="#23282e" stroke-width="0"/>
<circle cx="649" cy="635" r="1.3" fill="#23282e" stroke="#23282e" stroke-width="0"/>
<circle cx="654.4" cy="663.4" r="6" fill="#ffffff" stroke="#23282e" stroke-width="1.7"/>
<circle cx="654.4" cy="663.4" r="2.5" fill="#ccd" stroke="#23282e" stroke-width="1.2"/>
<path d="M657,656 q3,-6 8,-5" fill="none" stroke="#23282e" stroke-width="1.4" stroke-linejoin="round" stroke-linecap="round" />
<circle cx="673.1" cy="657.2" r="8" fill="#e4e6e8" stroke="#23282e" stroke-width="1.7"/>
<rect x="669" y="656" width="8.00" height="6.00" rx="0" fill="none" stroke="#23282e" stroke-width="1.3"/>
<path d="M670.5,656 v-2.5 q2.6,-3 5,0 v2.5" fill="none" stroke="#23282e" stroke-width="1.2" stroke-linejoin="round" stroke-linecap="round" />
<line x1="673.1" y1="665.2" x2="673.1" y2="681" stroke="#23282e" stroke-width="1.4" stroke-linecap="round" />
<line x1="646" y1="674" x2="671" y2="674" stroke="#23282e" stroke-width="1.5" stroke-linecap="round" />
<line x1="646" y1="678.5" x2="671" y2="678.5" stroke="#23282e" stroke-width="1.5" stroke-linecap="round" />
<line x1="646" y1="683" x2="668" y2="683" stroke="#23282e" stroke-width="1.5" stroke-linecap="round" />
<line x1="663" y1="670" x2="670" y2="670" stroke="#23282e" stroke-width="1.3" stroke-linecap="round" />
<circle cx="693.4" cy="664.2" r="8.7" fill="#e99a45" stroke="#23282e" stroke-width="1.7"/>
<path d="M689.5,661.5 l3.9,-2 l3.9,2 q0,4 -3.9,6 q-3.9,-2 -3.9,-6z" fill="#f2c07c" stroke="#23282e" stroke-width="1.1" stroke-linejoin="round" stroke-linecap="round" />
<path d="M702,667 l10,8 H720" fill="none" stroke="#23282e" stroke-width="1.3" stroke-linejoin="round" stroke-linecap="round" />
<path d="M695,642 H713" fill="none" stroke="#23282e" stroke-width="1.3" stroke-linejoin="round" stroke-linecap="round" />
<rect x="713.75" y="644.7" width="31.25" height="43.70" rx="2" fill="#e99a45" stroke="#23282e" stroke-width="1.8"/>
<rect x="716" y="647" width="13.00" height="39.00" rx="0" fill="#6596bd" stroke="#23282e" stroke-width="1.2"/>
<rect x="717.0" y="648.5" width="4.6" height="3.2" fill="#e8eef3" stroke="#23282e" stroke-width="0.5"/>
<rect x="723.0" y="648.5" width="4.6" height="3.2" fill="#e8eef3" stroke="#23282e" stroke-width="0.5"/>
<rect x="717.0" y="653.1" width="4.6" height="3.2" fill="#e8eef3" stroke="#23282e" stroke-width="0.5"/>
<rect x="723.0" y="653.1" width="4.6" height="3.2" fill="#e8eef3" stroke="#23282e" stroke-width="0.5"/>
<rect x="717.0" y="657.7" width="4.6" height="3.2" fill="#e8eef3" stroke="#23282e" stroke-width="0.5"/>
<rect x="723.0" y="657.7" width="4.6" height="3.2" fill="#e8eef3" stroke="#23282e" stroke-width="0.5"/>
<rect x="717.0" y="662.3" width="4.6" height="3.2" fill="#e8eef3" stroke="#23282e" stroke-width="0.5"/>
<rect x="723.0" y="662.3" width="4.6" height="3.2" fill="#e8eef3" stroke="#23282e" stroke-width="0.5"/>
<rect x="717.0" y="666.9" width="4.6" height="3.2" fill="#e8eef3" stroke="#23282e" stroke-width="0.5"/>
<rect x="723.0" y="666.9" width="4.6" height="3.2" fill="#e8eef3" stroke="#23282e" stroke-width="0.5"/>
<rect x="717.0" y="671.5" width="4.6" height="3.2" fill="#e8eef3" stroke="#23282e" stroke-width="0.5"/>
<rect x="723.0" y="671.5" width="4.6" height="3.2" fill="#e8eef3" stroke="#23282e" stroke-width="0.5"/>
<rect x="717.0" y="676.1" width="4.6" height="3.2" fill="#e8eef3" stroke="#23282e" stroke-width="0.5"/>
<rect x="723.0" y="676.1" width="4.6" height="3.2" fill="#e8eef3" stroke="#23282e" stroke-width="0.5"/>
<rect x="717.0" y="680.7" width="4.6" height="3.2" fill="#e8eef3" stroke="#23282e" stroke-width="0.5"/>
<rect x="723.0" y="680.7" width="4.6" height="3.2" fill="#e8eef3" stroke="#23282e" stroke-width="0.5"/>
<rect x="731" y="648.0" width="11.00" height="4.00" rx="0" fill="#f6dca0" stroke="#23282e" stroke-width="1"/>
<rect x="731" y="654.5" width="11.00" height="4.00" rx="0" fill="#ffffff" stroke="#23282e" stroke-width="1"/>
<rect x="731" y="661.0" width="11.00" height="4.00" rx="0" fill="#e99a45" stroke="#23282e" stroke-width="1"/>
<rect x="731" y="667.5" width="11.00" height="4.00" rx="0" fill="#ffffff" stroke="#23282e" stroke-width="1"/>
<rect x="731" y="674.0" width="11.00" height="4.00" rx="0" fill="#f6dca0" stroke="#23282e" stroke-width="1"/>
<rect x="731" y="680.5" width="11.00" height="4.00" rx="0" fill="#ffffff" stroke="#23282e" stroke-width="1"/>
<circle cx="699.7" cy="619.7" r="10" fill="#6596bd" stroke="#23282e" stroke-width="1.8"/>
<path d="M694,616 H705 L699.7,623.5 Z" fill="#ffffff" stroke="#23282e" stroke-width="1.5" stroke-linejoin="round" stroke-linecap="round" />
<path d="M708,624 l7,4 q3,4 -2,5" fill="#cfe0ec" stroke="#23282e" stroke-width="1.3" stroke-linejoin="round" stroke-linecap="round" />
<path d="M1122,681 H1153 L1156,696 H1119 Z" fill="#6596bd" stroke="#23282e" stroke-width="1.8" stroke-linejoin="round" stroke-linecap="round" />
<path d="M1107,706 q0,-10.7 10,-10.7 H1158 q9.8,0 9.8,10.7 Z" fill="#6596bd" stroke="#23282e" stroke-width="1.8" stroke-linejoin="round" stroke-linecap="round" />
<rect x="1082.8" y="599.5" width="116.10" height="82.40" rx="5" fill="#6596bd" stroke="#23282e" stroke-width="2"/>
<rect x="1089" y="605" width="103.00" height="56.60" rx="1.5" fill="#ffffff" stroke="#23282e" stroke-width="1.6"/>
<circle cx="1138" cy="673.8" r="2.8" fill="#ffffff" stroke="#23282e" stroke-width="1.4"/>
<path d="M1110.5,626.5 L1099,636 L1110.5,645.5" fill="none" stroke="#23282e" stroke-width="2.6" stroke-linejoin="round" stroke-linecap="round" />
<path d="M1119,627 L1109.5,636 L1119,645" fill="none" stroke="#23282e" stroke-width="2.6" stroke-linejoin="round" stroke-linecap="round" />
<path d="M1130,624.5 L1119.5,648" fill="none" stroke="#23282e" stroke-width="2.6" stroke-linejoin="round" stroke-linecap="round" />
<path d="M1131.5,627 L1142.5,636 L1131.5,645" fill="none" stroke="#23282e" stroke-width="2.6" stroke-linejoin="round" stroke-linecap="round" />
<line x1="1146" y1="618.4" x2="1173" y2="618.4" stroke="#23282e" stroke-width="1.7" stroke-linecap="round" />
<line x1="1146" y1="626.5" x2="1173" y2="626.5" stroke="#23282e" stroke-width="1.7" stroke-linecap="round" />
<line x1="1146" y1="634.6" x2="1173" y2="634.6" stroke="#23282e" stroke-width="1.7" stroke-linecap="round" />
<line x1="1146" y1="642.7" x2="1173" y2="642.7" stroke="#23282e" stroke-width="1.7" stroke-linecap="round" />
<line x1="1146" y1="650.8" x2="1173" y2="650.8" stroke="#23282e" stroke-width="1.7" stroke-linecap="round" />
<path d="M1181,596.8 H1210 q6.4,0 6.4,6.4 V639 q0,6.4 -6.4,6.4 H1190 L1182.7,653 L1183,645.4 q-8.4,0 -8.4,-6.4 V603.2 q0,-6.4 6.4,-6.4z" fill="#e99a45" stroke="#23282e" stroke-width="1.9" stroke-linejoin="round" stroke-linecap="round" />
<line x1="1201.5" y1="613.5" x2="1187.5" y2="628" stroke="#23282e" stroke-width="4.4" stroke-linecap="round" />
<line x1="1201.5" y1="613.5" x2="1187.5" y2="628" stroke="#f6dca0" stroke-width="2" stroke-linecap="round" />
<circle cx="1202" cy="613.4" r="5.6" fill="#ffffff" stroke="#23282e" stroke-width="1.8"/>
<circle cx="1187" cy="628.3" r="5.6" fill="#ffffff" stroke="#23282e" stroke-width="1.8"/>
<path d="M1180,614 q5,-7 12,-6 q1,6 -1,11 q-6,-1 -11,-5z" fill="#6596bd" stroke="#23282e" stroke-width="1.5" stroke-linejoin="round" stroke-linecap="round" />
<path d="M1197,625 q8,-1 14,5 q-5,5 -10,7 q-4,-5 -4,-12z" fill="#6596bd" stroke="#23282e" stroke-width="1.5" stroke-linejoin="round" stroke-linecap="round" />
<path d="M1061,694 V665 q1,-8 5,-13 q-2,-8 4,-12 q-1,-7 8,-7 q7,0 8,6 l-3,30 l7,-10 q3,-2 5,1 l-12,22 V694" fill="#ffffff" stroke="#23282e" stroke-width="1.8" stroke-linejoin="round" stroke-linecap="round" />
<path d="M1066,652 q8,-2 18,-1 M1070,640 q8,-2 16,0 M1069,664 q8,-3 15,-1" fill="none" stroke="#23282e" stroke-width="1.4" stroke-linejoin="round" stroke-linecap="round" />
<rect x="1057" y="694" width="26.00" height="8.00" rx="0" fill="#ffffff" stroke="#23282e" stroke-width="1.8"/>
<rect x="1158.4" y="664.3" width="43.20" height="23.00" rx="2" fill="#ffffff" stroke="#23282e" stroke-width="1.7"/>
<line x1="1163" y1="668" x2="1163" y2="674" stroke="#23282e" stroke-width="1.6" stroke-linecap="round" />
<line x1="1167" y1="668" x2="1167" y2="674" stroke="#23282e" stroke-width="1.6" stroke-linecap="round" />
<line x1="1171" y1="668" x2="1171" y2="674" stroke="#23282e" stroke-width="1.6" stroke-linecap="round" />
<line x1="1175" y1="668" x2="1175" y2="674" stroke="#23282e" stroke-width="1.6" stroke-linecap="round" />
<line x1="1179" y1="668" x2="1179" y2="674" stroke="#23282e" stroke-width="1.6" stroke-linecap="round" />
<line x1="1183" y1="668" x2="1183" y2="674" stroke="#23282e" stroke-width="1.6" stroke-linecap="round" />
<line x1="1187" y1="668" x2="1187" y2="674" stroke="#23282e" stroke-width="1.6" stroke-linecap="round" />
<line x1="1163" y1="680" x2="1180" y2="680" stroke="#23282e" stroke-width="1.4" stroke-linecap="round" />
<line x1="1184" y1="680" x2="1196" y2="680" stroke="#23282e" stroke-width="1.4" stroke-linecap="round" />
<rect x="1162.4" y="683.2" width="47.30" height="21.60" rx="2" fill="#6596bd" stroke="#23282e" stroke-width="1.8"/>
<rect x="1165" y="686" width="20.00" height="16.00" rx="0" fill="#dfe9f1" stroke="#23282e" stroke-width="1.1"/>
<circle cx="1174" cy="692" r="3" fill="#ffffff" stroke="#23282e" stroke-width="1.4"/>
<circle cx="1181" cy="697" r="3.5" fill="#ffffff" stroke="#23282e" stroke-width="1.4"/>
<circle cx="1193" cy="691" r="2.4" fill="#ffffff" stroke="#23282e" stroke-width="1.3"/>
<circle cx="1202" cy="691" r="2.4" fill="#ffffff" stroke="#23282e" stroke-width="1.3"/>
<circle cx="1193" cy="699" r="2.4" fill="#ffffff" stroke="#23282e" stroke-width="1.3"/>
<circle cx="1202" cy="699" r="2.4" fill="#ffffff" stroke="#23282e" stroke-width="1.3"/>
<path d="M1170,702 l8,-10" fill="none" stroke="#23282e" stroke-width="1.6" stroke-linejoin="round" stroke-linecap="round" />
<line x1="130.7" y1="401.3" x2="168" y2="401.3" stroke="#23282e" stroke-width="1.5" stroke-linecap="round" />
<line x1="168" y1="401.3" x2="205.2" y2="401.3" stroke="#23282e" stroke-width="1.5" stroke-linecap="round" />
<line x1="205.2" y1="401.3" x2="205.2" y2="474.1" stroke="#23282e" stroke-width="1.5" stroke-linecap="round" />
<line x1="168" y1="437.7" x2="205.2" y2="437.7" stroke="#23282e" stroke-width="1.5" stroke-linecap="round" />
<line x1="168" y1="401.3" x2="168" y2="474" stroke="#23282e" stroke-width="1.5" stroke-linecap="round" />
<line x1="130.7" y1="401.3" x2="130.7" y2="474.1" stroke="#23282e" stroke-width="1.5" stroke-linecap="round" />
<line x1="142" y1="413" x2="197" y2="466" stroke="#23282e" stroke-width="1.5" stroke-linecap="round" stroke-dasharray="4 3"/>
<line x1="142" y1="413" x2="150" y2="427" stroke="#23282e" stroke-width="1.5" stroke-linecap="round" />
<text x="158" y="420" font-family="Liberation Sans" font-size="8" fill="#23282e">"OO7 ON"</text>
<path d="M77.2,488 V394.5 q0,-13 13,-13 H96.4 q13,0 13,13 V488 q0,4 -4,4 H81.2 q-4,0 -4,-4 Z" fill="#ffffff" stroke="#23282e" stroke-width="1.8" stroke-linejoin="round" stroke-linecap="round" />
<path d="M77.2,393.7 V394.5 q0,-13 13,-13 H96.4 q13,0 13,13 V393.7 Z" fill="#6596bd" stroke="#23282e" stroke-width="1.6" stroke-linejoin="round" stroke-linecap="round" />
<rect x="77.2" y="418.3" width="32.20" height="14.70" rx="0" fill="#6596bd" stroke="#23282e" stroke-width="1.6"/>
<rect x="77.2" y="455.2" width="32.20" height="12.70" rx="0" fill="#e99a45" stroke="#23282e" stroke-width="1.6"/>
<path d="M77.2,477.5 H109.4 V488 q0,4 -4,4 H81.2 q-4,0 -4,-4 Z" fill="#6596bd" stroke="#23282e" stroke-width="1.6" stroke-linejoin="round" stroke-linecap="round" />
<path d="M85,410 l5,-6 l3,4 l3,-5 l5,7 l-3,3" fill="none" stroke="#23282e" stroke-width="1.5" stroke-linejoin="round" stroke-linecap="round" />
<path d="M86,450 l14,-13 M88,439 l12,12" fill="none" stroke="#23282e" stroke-width="1.8" stroke-linejoin="round" stroke-linecap="round" />
<circle cx="84.5" cy="425.6" r="2.2" fill="none" stroke="#23282e" stroke-width="1.1"/>
<circle cx="90.5" cy="425.6" r="2.2" fill="none" stroke="#23282e" stroke-width="1.1"/>
<circle cx="96.5" cy="425.6" r="2.2" fill="none" stroke="#23282e" stroke-width="1.1"/>
<circle cx="102.5" cy="425.6" r="2.2" fill="none" stroke="#23282e" stroke-width="1.1"/>
<circle cx="86" cy="461.5" r="2" fill="none" stroke="#23282e" stroke-width="1.1"/>
<circle cx="92" cy="461.5" r="2" fill="none" stroke="#23282e" stroke-width="1.1"/>
<circle cx="98" cy="461.5" r="2" fill="none" stroke="#23282e" stroke-width="1.1"/>
<text x="83" y="488" font-family="Liberation Sans" font-weight="bold" font-size="10" fill="#23282e">Oo</text>
<circle cx="130.7" cy="401.3" r="12" fill="#e99a45" stroke="#23282e" stroke-width="1.8"/>
<circle cx="130.7" cy="401.3" r="7.5" fill="#ffffff" stroke="#23282e" stroke-width="1.5"/>
<circle cx="130.7" cy="401.3" r="2.8" fill="none" stroke="#23282e" stroke-width="1.2"/>
<circle cx="168" cy="401.3" r="12.5" fill="#6596bd" stroke="#23282e" stroke-width="1.8"/>
<circle cx="168" cy="401.3" r="8.5" fill="#ffffff" stroke="#23282e" stroke-width="1.5"/>
<line x1="165" y1="401.3" x2="171" y2="401.3" stroke="#23282e" stroke-width="2" stroke-linecap="round" />
<circle cx="205.2" cy="401.3" r="12.5" fill="#6596bd" stroke="#23282e" stroke-width="1.8"/>
<circle cx="205.2" cy="401.3" r="8.5" fill="#ffffff" stroke="#23282e" stroke-width="1.5"/>
<rect x="200.5" y="398" width="9.50" height="7.00" rx="2" fill="none" stroke="#23282e" stroke-width="1.2"/>
<circle cx="138.6" cy="437.7" r="14.5" fill="#6596bd" stroke="#23282e" stroke-width="1.8"/>
<circle cx="138.6" cy="437.7" r="10" fill="#9ebfd8" stroke="#23282e" stroke-width="1.5"/>
<path d="M133,436 q4,-6 10,-2 q-2,6 -8,6" fill="none" stroke="#23282e" stroke-width="1.3" stroke-linejoin="round" stroke-linecap="round" />
<circle cx="205.2" cy="437.7" r="12.5" fill="#6596bd" stroke="#23282e" stroke-width="1.8"/>
<circle cx="205.2" cy="437.7" r="8.5" fill="#ffffff" stroke="#23282e" stroke-width="1.5"/>
<circle cx="130.7" cy="474.1" r="12.5" fill="#6596bd" stroke="#23282e" stroke-width="1.8"/>
<circle cx="130.7" cy="474.1" r="8.5" fill="#ffffff" stroke="#23282e" stroke-width="1.5"/>
<circle cx="130" cy="474" r="2.2" fill="none" stroke="#23282e" stroke-width="1.2"/>
<path d="M165.73,459.68 L166.45,457.57 L169.55,457.57 L170.27,459.68 L173.20,460.46 L174.87,459.00 L177.56,460.55 L177.13,462.73 L179.27,464.87 L181.45,464.44 L183.00,467.13 L181.54,468.80 L182.32,471.73 L184.43,472.45 L184.43,475.55 L182.32,476.27 L181.54,479.20 L183.00,480.87 L181.45,483.56 L179.27,483.13 L177.13,485.27 L177.56,487.45 L174.87,489.00 L173.20,487.54 L170.27,488.32 L169.55,490.43 L166.45,490.43 L165.73,488.32 L162.80,487.54 L161.13,489.00 L158.44,487.45 L158.87,485.27 L156.73,483.13 L154.55,483.56 L153.00,480.87 L154.46,479.20 L153.68,476.27 L151.57,475.55 L151.57,472.45 L153.68,471.73 L154.46,468.80 L153.00,467.13 L154.55,464.44 L156.73,464.87 L158.87,462.73 L158.44,460.55 L161.13,459.00 L162.80,460.46Z" fill="#e99a45" stroke="#23282e" stroke-width="1.6" stroke-linejoin="round"/>
<circle cx="168" cy="474" r="10.5" fill="#ffffff" stroke="#23282e" stroke-width="1.8"/>
<circle cx="205.2" cy="474.1" r="12.5" fill="#6596bd" stroke="#23282e" stroke-width="1.8"/>
<circle cx="205.2" cy="474.1" r="8.5" fill="#ffffff" stroke="#23282e" stroke-width="1.5"/>
<path d="M201.5,472 q1.8,-3 3.7,0 q1.8,-3 3.7,0 q0,3 -3.7,5.5 q-3.7,-2.5 -3.7,-5.5z" fill="none" stroke="#23282e" stroke-width="1.2" stroke-linejoin="round" stroke-linecap="round" />
<line x1="997.4" y1="393.7" x2="1021.4" y2="393.7" stroke="#23282e" stroke-width="1.6" stroke-linecap="round" />
<line x1="1001" y1="482.6" x2="1022" y2="482.6" stroke="#23282e" stroke-width="1.6" stroke-linecap="round" />
<rect x="959" y="386" width="24.80" height="19.20" rx="0" fill="#6596bd" stroke="#23282e" stroke-width="1.8"/>
<rect x="965.6" y="405.2" width="12.10" height="9.80" rx="0" fill="#ffffff" stroke="#23282e" stroke-width="1.6"/>
<path d="M943.2,484.5 V422 q0,-7.6 7.6,-7.6 H990.4 q7.6,0 7.6,7.6 V484.5 q0,4 -4,4 H947.2 q-4,0 -4,-4 Z" fill="#6596bd" stroke="#23282e" stroke-width="1.9" stroke-linejoin="round" stroke-linecap="round" />
<path d="M943.2,427 V422 q0,-7.6 7.6,-7.6 H990.4 q7.6,0 7.6,7.6 V427 Z" fill="#ffffff" stroke="#23282e" stroke-width="1.7" stroke-linejoin="round" stroke-linecap="round" />
<rect x="950.7" y="426.7" width="39.90" height="38.10" rx="0" fill="#ffffff" stroke="#23282e" stroke-width="1.6"/>
<rect x="950.7" y="466" width="39.90" height="13.70" rx="0" fill="#e99a45" stroke="#23282e" stroke-width="1.6"/>
<circle cx="957.0" cy="472.8" r="2.4" fill="#f6dca0" stroke="#23282e" stroke-width="1.1"/>
<circle cx="963.5" cy="472.8" r="2.4" fill="#f6dca0" stroke="#23282e" stroke-width="1.1"/>
<circle cx="970.0" cy="472.8" r="2.4" fill="#f6dca0" stroke="#23282e" stroke-width="1.1"/>
<circle cx="976.5" cy="472.8" r="2.4" fill="#f6dca0" stroke="#23282e" stroke-width="1.1"/>
<circle cx="983.0" cy="472.8" r="2.4" fill="#f6dca0" stroke="#23282e" stroke-width="1.1"/>
<path d="M1044.65,395.10 L1045.39,389.91 L1051.61,389.91 L1052.35,395.10 L1057.19,396.87 L1061.09,393.36 L1065.85,397.35 L1063.08,401.81 L1065.65,406.27 L1070.90,406.09 L1071.98,412.22 L1066.99,413.85 L1066.09,418.92 L1070.23,422.16 L1067.12,427.54 L1062.25,425.58 L1058.30,428.89 L1059.39,434.03 L1053.55,436.15 L1051.07,431.52 L1045.93,431.52 L1043.45,436.15 L1037.61,434.03 L1038.70,428.89 L1034.75,425.58 L1029.88,427.54 L1026.77,422.16 L1030.91,418.92 L1030.01,413.85 L1025.02,412.22 L1026.10,406.09 L1031.35,406.27 L1033.92,401.81 L1031.15,397.35 L1035.91,393.36 L1039.81,396.87Z" fill="#ffffff" stroke="#23282e" stroke-width="1.9" stroke-linejoin="round"/>
<circle cx="1048.5" cy="413.2" r="12" fill="#6596bd" stroke="#23282e" stroke-width="1.8"/>
<circle cx="1048.5" cy="413.2" r="7.2" fill="#e99a45" stroke="#23282e" stroke-width="1.4"/>

</svg>
<div class="t" style="left:167.0px;top:82.03px;font-size:16.5px;font-weight:normal;color:#ffffff;transform:scaleX(1.1322);-webkit-text-stroke:0.5px #ffffff;">FPR bost Unoperrohut option</div>
<div class="t" style="left:237.5px;top:102.03px;font-size:16.5px;font-weight:normal;color:#ffffff;transform:scaleX(1.0904);-webkit-text-stroke:0.5px #ffffff;">ext reltahics.</div>
<div class="t" style="left:1020.0px;top:81.03px;font-size:16.5px;font-weight:normal;color:#ffffff;transform:scaleX(1.0901);-webkit-text-stroke:0.5px #ffffff;">Upt es to hetþeng eher grede:</div>
<div class="t" style="left:1038.0px;top:100.03px;font-size:16.5px;font-weight:normal;color:#ffffff;transform:scaleX(1.0593);-webkit-text-stroke:0.5px #ffffff;">read dliieps Fiood foattlors</div>
<div class="t" style="left:535.0px;top:63.32px;font-size:27.5px;font-weight:bold;color:#ffffff;transform:scaleX(1.0635);">Intergratics frt ConpliaPL</div>
<div class="t" style="left:540.0px;top:101.11px;font-size:17px;font-weight:normal;color:#ffffff;transform:scaleX(1.1115);-webkit-text-stroke:0.5px #ffffff;">Integrabticte 8r-Creqrdiention inn Hosss</div>
<div class="t" style="left:129.0px;top:325.57px;font-size:20px;font-weight:bold;color:#1b2026;transform:scaleX(1.0251);">Unerspratices imūred hegriations</div>
<div class="t" style="left:316.0px;top:391.76px;font-size:18px;font-weight:bold;color:#1b2026;transform:scaleX(1.0473);">Piressscif liclene</div>
<div class="t" style="left:288.0px;top:421.84px;font-size:12px;font-weight:normal;color:#20201e;transform:scaleX(1.0964);-webkit-text-stroke:0.3px #20201e;">Lorem ipsum dolor sit amet, ecs tûi-</div>
<div class="t" style="left:288.0px;top:436.84px;font-size:12px;font-weight:normal;color:#20201e;transform:scaleX(0.9982);-webkit-text-stroke:0.3px #20201e;">emec ecrn eeligeerg hg cium, mnd pra-</div>
<div class="t" style="left:288.0px;top:452.04px;font-size:12px;font-weight:normal;color:#20201e;transform:scaleX(1.0344);-webkit-text-stroke:0.3px #20201e;">dinod ot tioran teiom os none nenove-</div>
<div class="t" style="left:288.0px;top:467.14px;font-size:12px;font-weight:normal;color:#20201e;transform:scaleX(1.1319);-webkit-text-stroke:0.3px #20201e;">quim rerieint weid te hlgeta lorone-</div>
<div class="t" style="left:288.0px;top:482.44px;font-size:12px;font-weight:normal;color:#20201e;transform:scaleX(1.0400);-webkit-text-stroke:0.3px #20201e;">rit esediot en ecoeqtuse.</div>
<div class="t" style="left:98.5px;top:529.52px;font-size:19px;font-weight:bold;color:#1b2026;transform:scaleX(0.9926);">Soure code!</div>
<div class="t" style="left:311.0px;top:529.52px;font-size:19px;font-weight:bold;color:#1b2026;transform:scaleX(0.9918);">Distribution alierent</div>
<div class="t" style="left:603.0px;top:325.27px;font-size:20px;font-weight:bold;color:#1b2026;transform:scaleX(1.0260);">Otlling liceuis he fcene</div>
<div class="t" style="left:570.5px;top:390.96px;font-size:18px;font-weight:bold;color:#1b2026;transform:scaleX(1.0136);">PGPIraL aycke fova&ralistityule</div>
<div class="t" style="left:570.5px;top:422.44px;font-size:12px;font-weight:normal;color:#20201e;transform:scaleX(1.1565);-webkit-text-stroke:0.3px #20201e;">Lorem ipsum dolor sit amet, creasitett anied el-</div>
<div class="t" style="left:570.5px;top:437.54px;font-size:12px;font-weight:normal;color:#20201e;transform:scaleX(1.1056);-webkit-text-stroke:0.3px #20201e;">efrecceting esphin sig udilence ohrnatd nonapre</div>
<div class="t" style="left:570.5px;top:452.74px;font-size:12px;font-weight:normal;color:#20201e;transform:scaleX(1.0759);-webkit-text-stroke:0.3px #20201e;">nimid en dotesmt. niet doeils eec oil rieea nemore-</div>
<div class="t" style="left:624.3px;top:467.44px;font-size:12px;font-weight:normal;color:#20201e;transform:scaleX(0.9973);-webkit-text-stroke:0.3px #20201e;">aiget US ceesharit len eceeqtyse.</div>
<div class="t" style="left:619.0px;top:529.32px;font-size:19px;font-weight:bold;color:#1b2026;transform:scaleX(0.9211);">Ieur fur Dietotive worts</div>
<div class="t" style="left:1006.5px;top:326.57px;font-size:20px;font-weight:bold;color:#1b2026;transform:scaleX(1.0109);">Inepprations Strictegratinct</div>
<div class="t" style="left:1135.5px;top:391.62px;font-size:19px;font-weight:bold;color:#1b2026;transform:scaleX(1.0043);">Consrirating works</div>
<div class="t" style="left:1135.9px;top:423.44px;font-size:12px;font-weight:normal;color:#20201e;transform:scaleX(1.1280);-webkit-text-stroke:0.3px #20201e;">Lorem ipsum dolor / sit amt eresing</div>
<div class="t" style="left:1135.9px;top:438.54px;font-size:12px;font-weight:normal;color:#20201e;transform:scaleX(1.1194);-webkit-text-stroke:0.3px #20201e;">oe ci rungelitenum oiditueomed fin</div>
<div class="t" style="left:1135.9px;top:453.84px;font-size:12px;font-weight:normal;color:#20201e;transform:scaleX(1.1191);-webkit-text-stroke:0.3px #20201e;">nodirestiemit ut leborliefis dolrcorve</div>
<div class="t" style="left:1135.9px;top:469.24px;font-size:12px;font-weight:normal;color:#20201e;transform:scaleX(1.0742);-webkit-text-stroke:0.3px #20201e;">ellum hoodts a degue derilpue spius</div>
<div class="t" style="left:953.7px;top:431.80px;font-size:15px;font-weight:bold;color:#1b2026;transform:scaleX(1.0148);">GPL</div>
<div class="t" style="left:957.0px;top:449.97px;font-size:11.5px;font-weight:bold;color:#1b2026;transform:scaleX(0.9159);">ENIT</div>
<div class="t" style="left:1015.5px;top:438.54px;font-size:12px;font-weight:normal;color:#20201e;transform:scaleX(0.9928);-webkit-text-stroke:0.3px #20201e;">Teer orrroviue</div>
<div class="t" style="left:1024.0px;top:453.84px;font-size:12px;font-weight:normal;color:#20201e;transform:scaleX(1.1241);-webkit-text-stroke:0.3px #20201e;">alh portt n</div>
<div class="t" style="left:1026.5px;top:468.84px;font-size:12px;font-weight:normal;color:#20201e;transform:scaleX(0.9019);-webkit-text-stroke:0.3px #20201e;">uesrtes</div>
<div class="t" style="left:920.5px;top:528.82px;font-size:19px;font-weight:bold;color:#1b2026;transform:scaleX(0.9698);">Coni-ingtone natodics</div>
<div class="t" style="left:1155.0px;top:528.82px;font-size:19px;font-weight:bold;color:#1b2026;transform:scaleX(0.9390);">Viral Litke Deriomation</div>
</body></html>
